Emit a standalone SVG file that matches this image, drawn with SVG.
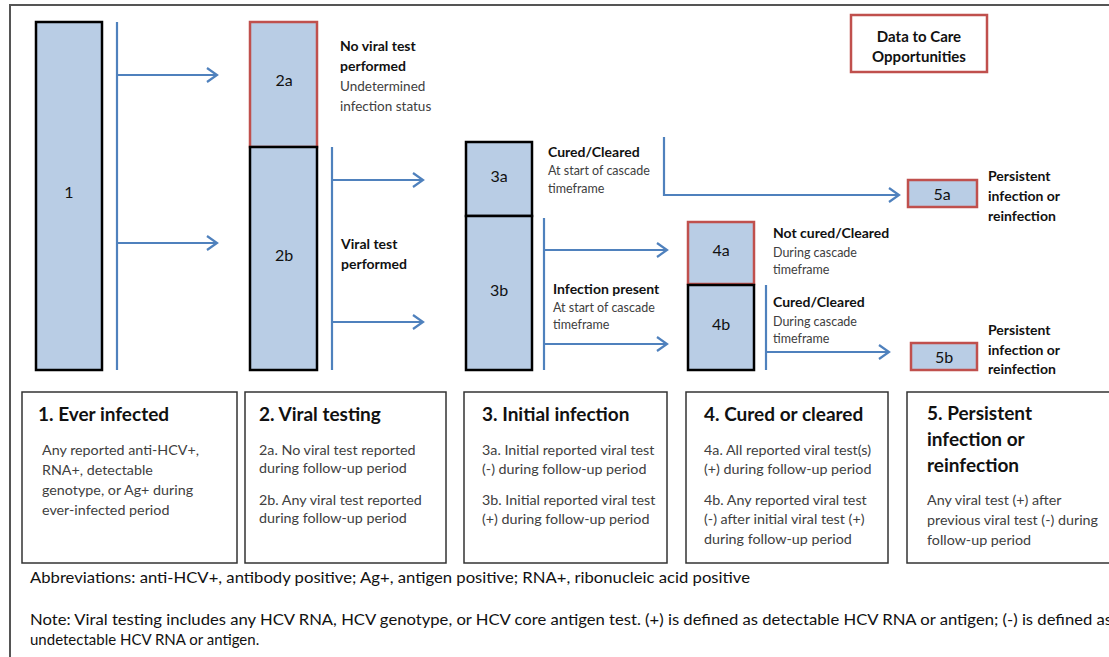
<svg xmlns="http://www.w3.org/2000/svg" width="1109" height="657" viewBox="0 0 1109 657">
<style>
text{font-family:Lato,"Open Sans","Liberation Sans",sans-serif;}
.bar{fill:#B9CDE5;stroke:#000;stroke-width:2.5}
.red{fill:#B9CDE5;stroke:#C0504D;stroke-width:2.5}
.lbl{font-size:16px;fill:#111;text-anchor:middle}
.b{font-size:14px;font-weight:bold;fill:#111}
.s{font-size:12.5px;fill:#404040}
.con{fill:none;stroke:#4F81BD;stroke-width:2.2}
.card{fill:#fff;stroke:#333;stroke-width:1.5}
.h{font-size:19px;font-weight:bold;fill:#111}
.t{font-size:14.3px;fill:#404040}
.n{font-size:15px;fill:#111}
</style>
<defs>
<marker id="ah" markerWidth="14" markerHeight="16" refX="12" refY="8" orient="auto" markerUnits="userSpaceOnUse">
<path d="M2,1 L12,8 L2,15" fill="none" stroke="#4F81BD" stroke-width="2.2"/>
</marker>
</defs>
<rect x="0" y="0" width="1109" height="657" fill="#fff"/>
<path d="M10,660 V5 H1112" fill="none" stroke="#555" stroke-width="2"/>

<g id="connectors">
<line class="con" x1="117" y1="22" x2="117" y2="370"/>
<line class="con" x1="117" y1="75" x2="217" y2="75" marker-end="url(#ah)"/>
<line class="con" x1="117" y1="243" x2="217" y2="243" marker-end="url(#ah)"/>
<line class="con" x1="332" y1="147" x2="332" y2="370"/>
<line class="con" x1="332" y1="180" x2="423" y2="180" marker-end="url(#ah)"/>
<line class="con" x1="332" y1="322" x2="423" y2="322" marker-end="url(#ah)"/>
<path class="con" d="M664,137 V195 H899" marker-end="url(#ah)"/>
<line class="con" x1="544" y1="218" x2="544" y2="370"/>
<line class="con" x1="544" y1="250" x2="667" y2="250" marker-end="url(#ah)"/>
<line class="con" x1="544" y1="344" x2="667" y2="344" marker-end="url(#ah)"/>
<line class="con" x1="766" y1="285" x2="766" y2="370"/>
<line class="con" x1="766" y1="352" x2="889" y2="352" marker-end="url(#ah)"/>
</g>

<g id="n1"><rect class="bar" x="36" y="22" width="66" height="348"/><text class="lbl" x="69" y="198">1</text></g>
<g id="n2a"><rect class="red" x="250" y="22" width="67" height="125"/><text class="lbl" x="284" y="86">2a</text>
<text class="b" x="340" y="51">No viral test</text><text class="b" x="340" y="71">performed</text>
<text class="t" x="340" y="91" style="font-size:13.5px">Undetermined</text><text class="t" x="340" y="111" style="font-size:13.5px">infection status</text></g>
<g id="n2b"><rect class="bar" x="250" y="147" width="67" height="223"/><text class="lbl" x="284" y="261">2b</text>
<text class="b" x="341" y="249">Viral test</text><text class="b" x="341" y="269">performed</text></g>
<g id="n3a"><rect class="bar" x="466" y="142" width="66" height="74"/><text class="lbl" x="499" y="182">3a</text>
<text class="b" x="548" y="157">Cured/Cleared</text><text class="s" x="548" y="175">At start of cascade</text><text class="s" x="548" y="193">timeframe</text></g>
<g id="n3b"><rect class="bar" x="466" y="216" width="66" height="154"/><text class="lbl" x="499" y="296">3b</text>
<text class="b" x="553" y="294">Infection present</text><text class="s" x="553" y="312">At start of cascade</text><text class="s" x="553" y="329">timeframe</text></g>
<g id="n4a"><rect class="red" x="688" y="222" width="66" height="62"/><text class="lbl" x="721" y="256">4a</text>
<text class="b" x="773" y="238">Not cured/Cleared</text><text class="s" x="773" y="257">During cascade</text><text class="s" x="773" y="274">timeframe</text></g>
<g id="n4b"><rect class="bar" x="688" y="285" width="66" height="85"/><text class="lbl" x="721" y="330">4b</text>
<text class="b" x="773" y="307">Cured/Cleared</text><text class="s" x="773" y="326">During cascade</text><text class="s" x="773" y="343">timeframe</text></g>
<g id="n5a"><rect class="red" x="908" y="180" width="69" height="27"/><text class="lbl" x="942" y="200">5a</text>
<text class="b" x="988" y="181">Persistent</text><text class="b" x="988" y="201">infection or</text><text class="b" x="988" y="221">reinfection</text></g>
<g id="n5b"><rect class="red" x="911" y="343" width="66" height="27"/><text class="lbl" x="944" y="363">5b</text>
<text class="b" x="988" y="335">Persistent</text><text class="b" x="988" y="355">infection or</text><text class="b" x="988" y="374">reinfection</text></g>
<g id="legend"><rect x="851" y="15" width="136" height="57" fill="#fff" stroke="#C0504D" stroke-width="2.5"/>
<text class="b" x="919" y="42" text-anchor="middle" style="font-size:15px">Data to Care</text><text class="b" x="919" y="62" text-anchor="middle" style="font-size:15px">Opportunities</text></g>

<g id="c1"><rect class="card" x="22" y="392" width="215" height="171"/>
<text class="h" x="38" y="421">1. Ever infected</text>
<text class="t" x="42" y="455">Any reported anti-HCV+,</text><text class="t" x="42" y="475">RNA+, detectable</text><text class="t" x="42" y="495">genotype, or Ag+ during</text><text class="t" x="42" y="515">ever-infected period</text></g>
<g id="c2"><rect class="card" x="245" y="392" width="201" height="171"/>
<text class="h" x="259" y="421">2. Viral testing</text>
<text class="t" x="259" y="455">2a. No viral test reported</text><text class="t" x="259" y="473">during follow-up period</text><text class="t" x="259" y="505">2b. Any viral test reported</text><text class="t" x="259" y="523">during follow-up period</text></g>
<g id="c3"><rect class="card" x="464" y="392" width="203" height="171"/>
<text class="h" x="482" y="421">3. Initial infection</text>
<text class="t" x="482" y="455">3a. Initial reported viral test</text><text class="t" x="482" y="474">(-) during follow-up period</text><text class="t" x="482" y="505">3b. Initial reported viral test</text><text class="t" x="482" y="524">(+) during follow-up period</text></g>
<g id="c4"><rect class="card" x="686" y="392" width="202" height="171"/>
<text class="h" x="704" y="421">4. Cured or cleared</text>
<text class="t" x="704" y="455">4a. All reported viral test(s)</text><text class="t" x="704" y="474">(+) during follow-up period</text><text class="t" x="704" y="505">4b. Any reported viral test</text><text class="t" x="704" y="524">(-) after initial viral test (+)</text><text class="t" x="704" y="544">during follow-up period</text></g>
<g id="c5"><rect class="card" x="907" y="392" width="210" height="171"/>
<text class="h" x="927" y="420">5. Persistent</text><text class="h" x="927" y="446">infection or</text><text class="h" x="927" y="472">reinfection</text>
<text class="t" x="927" y="505">Any viral test (+) after</text><text class="t" x="927" y="525">previous viral test (-) during</text><text class="t" x="927" y="545">follow-up period</text></g>

<text class="n" x="30" y="583" textLength="720" lengthAdjust="spacingAndGlyphs">Abbreviations: anti-HCV+, antibody positive; Ag+, antigen positive; RNA+, ribonucleic acid positive</text>
<text class="n" x="30" y="625" textLength="1082" lengthAdjust="spacingAndGlyphs">Note: Viral testing includes any HCV RNA, HCV genotype, or HCV core antigen test. (+) is defined as detectable HCV RNA or antigen; (-) is defined as</text>
<text class="n" x="30" y="645">undetectable HCV RNA or antigen.</text>
</svg>
